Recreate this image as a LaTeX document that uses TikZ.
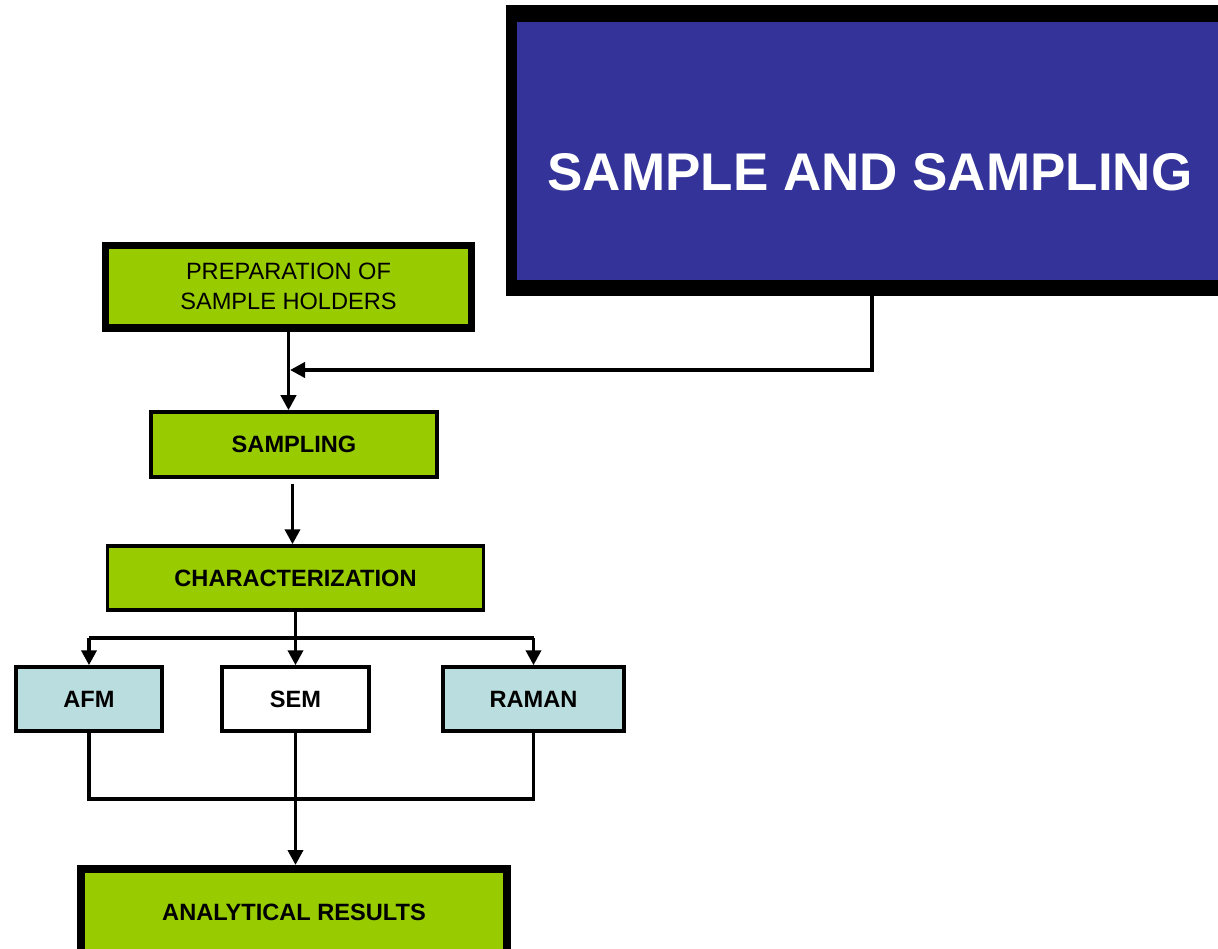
\documentclass[tikz,border=0pt]{standalone}
\usepackage{fontspec}
\setmainfont{Liberation Sans}
\usetikzlibrary{arrows.meta,calc}
\definecolor{titleblue}{HTML}{333399}
\definecolor{boxgreen}{HTML}{99CC00}
\definecolor{boxcyan}{HTML}{BADDDF}
\begin{document}
\begin{tikzpicture}[x=1pt,y=-1pt,
  box/.style={draw=black,rectangle,inner sep=0pt,align=center,font=\fontsize{23.6}{30}\selectfont},
  thinbox/.style={box,line width=3.5pt,font=\fontsize{23.6}{30}\selectfont\bfseries},
  thickbox/.style={box,line width=7.5pt},
  greenfill/.style={fill=boxgreen},
  cyanfill/.style={fill=boxcyan},
  titlebox/.style={fill=titleblue,inner sep=0pt,minimum width=710pt,minimum height=258pt},
  titletext/.style={text=white,inner sep=0pt,font=\fontsize{53}{60}\selectfont\bfseries},
  conn/.style={line width=3.8pt},
  arr/.style={conn,-{Triangle[length=15pt,width=15pt]}}
]
\useasboundingbox (0,0) rectangle (1218,949);
\clip (0,0) rectangle (1218,949);
\fill[white] (0,0) rectangle (1218,949);
% title block
\fill[black] (506,5) rectangle (1238,296);
\node[titlebox] (title) at (872,151) {};
\node[titletext] (titletxt) at (870,172) {SAMPLE AND SAMPLING};
\coordinate (tb) at (872,296);
% boxes
\node[thickbox,greenfill,minimum width=366pt,minimum height=82.5pt] (prep) at (288.5,286.75) {PREPARATION OF\\SAMPLE HOLDERS};
\node[thinbox,greenfill,minimum width=286pt,minimum height=65pt] (samp) at (294,444.5) {SAMPLING};
\node[thinbox,greenfill,minimum width=376pt,minimum height=64pt] (char) at (295.5,578) {CHARACTERIZATION};
\node[thinbox,cyanfill,minimum width=146pt,minimum height=64pt] (afm) at (89,699) {AFM};
\node[thinbox,fill=white,minimum width=147pt,minimum height=64pt] (sem) at (295.5,699) {SEM};
\node[thinbox,cyanfill,minimum width=181pt,minimum height=64pt] (raman) at (533.5,699) {RAMAN};
\node[thickbox,greenfill,line width=8pt,minimum width=426pt,minimum height=86pt,font=\fontsize{23.6}{30}\selectfont\bfseries] (res) at (294,912) {ANALYTICAL RESULTS};
% connectors
\coordinate (j1) at (290,370);
\coordinate (s1) at (292.5,484);
\coordinate (split) at (295.5,638);
\coordinate (merge) at (295.5,799);
\draw[arr] (prep.south) -- (prep.south |- samp.north);
\draw[arr] (tb) |- (j1);
\draw[arr] (s1) -- (s1 |- char.north);
\draw[conn] (char.south) -- (split);
\draw[conn] (afm.north |- split) -- (raman.north |- split);
\draw[arr] (afm.north |- split) -- (afm.north);
\draw[arr] (split) -- (sem.north);
\draw[arr] (raman.north |- split) -- (raman.north);
\draw[conn] (afm.south) |- (merge) -| (raman.south);
\draw[arr] (sem.south) -- (sem.south |- res.north);
\end{tikzpicture}
\end{document}
